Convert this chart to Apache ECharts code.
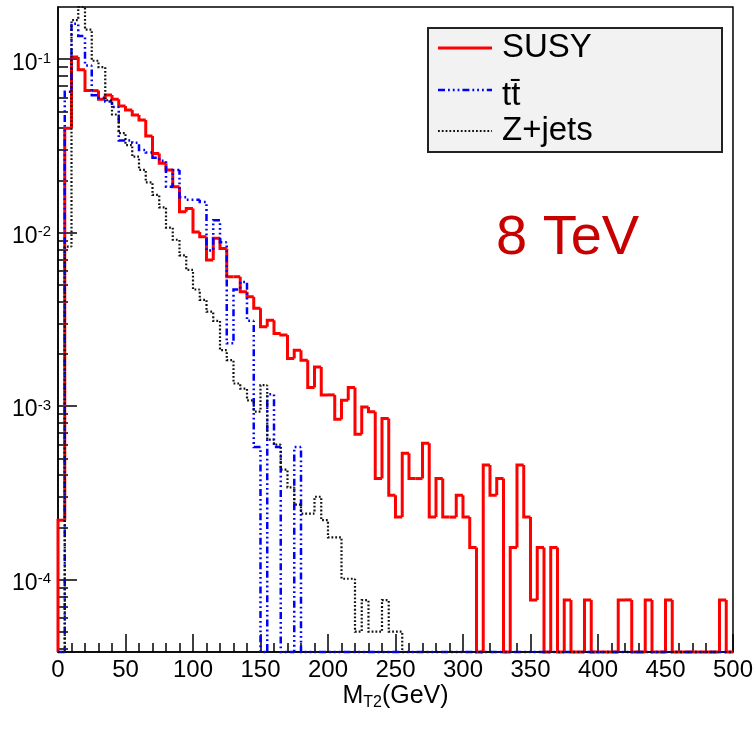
<!DOCTYPE html>
<html>
<head>
<meta charset="utf-8">
<script src="https://cdn.jsdelivr.net/npm/echarts@6/dist/echarts.min.js"></script>
<style>
  html, body { margin: 0; padding: 0; background: #fff; }
  #chart { width: 756px; height: 736px; }
</style>
</head>
<body>
<div id="chart"></div>
<script>
// M_T2 distributions, 5 GeV bins from 0 to 500 GeV, normalised to unit area.
const BIN_WIDTH = 5;
const binLow = Array.from({ length: 100 }, (_, i) => i * BIN_WIDTH);

const susy = [
  2.2e-4, 0.040, 0.103, 0.0868, 0.0659, 0.0659, 0.0587, 0.0622, 0.0587, 0.0538,
  0.0509, 0.0477, 0.0446, 0.0361, 0.0286, 0.0251, 0.0230, 0.0184, 0.0132, 0.0138,
  0.0101, 0.00946, 0.00695, 0.00927, 0.00811, 0.00557, 0.00557, 0.00456, 0.00427, 0.00366,
  0.00287, 0.00313, 0.00262, 0.00257, 0.00188, 0.00210, 0.00184, 0.00128, 0.00168, 0.00116,
  0.00116, 0.000839, 0.00108, 0.00128, 0.000687, 0.000988, 0.000926, 0.000382, 0.000849, 0.000306,
  0.000229, 0.000534, 0.000382, 0.000382, 0.00061, 0.000229, 0.000382, 0.000229, 0.000229, 0.000306,
  0.000229, 0.000153, 0, 0.000458, 0.000306, 0.000382, 0, 0.000153, 0.000458, 0.000229,
  0.0000763, 0.000153, 0, 0.000153, 0, 0.0000763, 0, 0, 0.0000763, 0,
  0, 0, 0, 0.0000763, 0.0000763, 0, 0, 0.0000763, 0, 0,
  0.0000763, 0, 0, 0, 0, 0, 0, 0, 0.0000763, 0
];

const ttbar = [
  0, 0.065, 0.16, 0.136, 0.092, 0.062, 0.060, 0.057, 0.053, 0.034,
  0.034, 0.033, 0.030, 0.029, 0.027, 0.026, 0.0184, 0.023, 0.016, 0.0155,
  0.0155, 0.0150, 0.0079, 0.0118, 0.0088, 0.0023, 0.0047, 0.0052, 0.0031, 0.00058,
  0, 0.00117, 0.00058, 0, 0, 0.00058, 0, 0, 0, 0,
  0, 0, 0, 0, 0, 0, 0, 0, 0, 0,
  0, 0, 0, 0, 0, 0, 0, 0, 0, 0,
  0, 0, 0, 0, 0, 0, 0, 0, 0, 0,
  0, 0, 0, 0, 0, 0, 0, 0, 0, 0,
  0, 0, 0, 0, 0, 0, 0, 0, 0, 0,
  0, 0, 0, 0, 0, 0, 0, 0, 0, 0
];

const zjets = [
  0, 0.0083, 0.168, 0.25, 0.148, 0.098, 0.090, 0.058, 0.048, 0.0375,
  0.032, 0.0274, 0.0230, 0.0195, 0.0165, 0.0140, 0.0107, 0.0091, 0.0074, 0.0061,
  0.0047, 0.0041, 0.0035, 0.0031, 0.0021, 0.00184, 0.00135, 0.00126, 0.00108, 0.00093,
  0.00132, 0.00064, 0.00060, 0.00043, 0.00034, 0.00027, 0.00024, 0.00024, 0.00030, 0.00022,
  0.000175, 0.000175, 0.000101, 0.000101, 0.00005, 0.000076, 0.00005, 0.00005, 0.000076, 0.00005,
  0.00005, 0, 0, 0, 0, 0, 0, 0, 0, 0,
  0, 0, 0, 0, 0, 0, 0, 0, 0, 0,
  0, 0, 0, 0, 0, 0, 0, 0, 0, 0,
  0, 0, 0, 0, 0, 0, 0, 0, 0, 0,
  0, 0, 0, 0, 0, 0, 0, 0, 0, 0
];

const seriesNames = ['SUSY', 't\u0074\u0304', 'Z+jets'];
const xTickLabels = [0, 50, 100, 150, 200, 250, 300, 350, 400, 450, 500];
const yTickLabels = [1e-4, 1e-3, 1e-2, 1e-1];

// Vertical range of the frame
const Y_MIN = 3.82e-5;
const Y_MAX = 0.2;

// Minor log ticks at 2..9 x 10^n inside the frame
const yMinorTicks = [];
for (let e = -5; e <= -1; e++) {
  for (let k = 2; k <= 9; k++) {
    const v = k * Math.pow(10, e);
    if (v > Y_MIN && v < Y_MAX) yMinorTicks.push(v);
  }
}

const FONT = '"Liberation Sans", Arial, Helvetica, sans-serif';

const styles = [
  { stroke: '#ff0000', lineWidth: 3, lineDash: null },
  { stroke: '#0000ff', lineWidth: 2.5, lineDash: [7, 3, 1.8, 3, 1.8, 3, 1.8, 3] },
  { stroke: '#111111', lineWidth: 2.2, lineDash: [1.8, 2] }
];

// Step outline of one histogram, drawn bin by bin; out-of-range contents sit on the frame.
function makeRenderItem(values, style) {
  return function (params, api) {
    const i = params.dataIndex;
    const clampV = v => Math.min(Math.max(v, Y_MIN), Y_MAX);
    const pt = (x, v) => api.coord([x, clampV(v)]);
    // keep the dash pattern continuous across bins
    let offset = 0;
    for (let k = 0; k < i; k++) {
      const p0 = pt(binLow[k], k > 0 ? values[k - 1] : 0);
      const p1 = pt(binLow[k], values[k]);
      const p2 = pt(binLow[k] + BIN_WIDTH, values[k]);
      offset += Math.abs(p1[1] - p0[1]) + Math.abs(p2[0] - p1[0]);
    }
    const prev = i > 0 ? values[i - 1] : 0;
    const x0 = binLow[i], x1 = binLow[i] + BIN_WIDTH;
    const points = [pt(x0, prev), pt(x0, values[i]), pt(x1, values[i])];
    if (i === values.length - 1) points.push(pt(x1, 0));
    return {
      type: 'polyline',
      shape: { points },
      style: {
        stroke: style.stroke,
        lineWidth: style.lineWidth,
        lineDash: style.lineDash,
        lineDashOffset: offset,
        fill: null,
        lineJoin: 'miter'
      }
    };
  };
}

const allSeries = [susy, ttbar, zjets].map((values, s) => ({
  name: seriesNames[s],
  type: 'custom',
  coordinateSystem: 'cartesian2d',
  clip: false,
  z: 2 + s,
  encode: { x: 0, y: 1 },
  data: values.map((v, i) => [binLow[i], v]),
  renderItem: makeRenderItem(values, styles[s]),
  silent: true
}));

const chart = echarts.init(document.getElementById('chart'), null, { renderer: 'canvas' });

chart.setOption({
  animation: false,
  backgroundColor: '#ffffff',
  grid: {
    left: 58, right: 22, top: 7, bottom: 84,
    show: true, borderColor: '#000', borderWidth: 1.5, backgroundColor: 'transparent'
  },
  xAxis: {
    type: 'value',
    min: xTickLabels[0],
    max: xTickLabels[xTickLabels.length - 1],
    interval: 50,
    name: '{m|M}{sub|T2}{m|(GeV)}',
    nameLocation: 'middle',
    nameGap: 29,
    nameMoveOverlap: false,
    nameTextStyle: {
      rich: {
        m: { fontSize: 25, fontFamily: FONT, color: '#000', lineHeight: 30 },
        sub: { fontSize: 16, fontFamily: FONT, color: '#000', lineHeight: 12, verticalAlign: 'bottom' }
      }
    },
    axisLine: { show: true, onZero: false, lineStyle: { color: '#000', width: 1.5 } },
    axisTick: { show: true, inside: true, length: 18, lineStyle: { color: '#000', width: 1.5 } },
    minorTick: { show: true, splitNumber: 5, length: 9, lineStyle: { color: '#000', width: 1.5 } },
    axisLabel: { fontSize: 24, fontFamily: FONT, color: '#000', margin: 6 },
    splitLine: { show: false }
  },
  yAxis: [
    {
      type: 'log',
      logBase: 10,
      min: Y_MIN,
      max: Y_MAX,
      axisLine: { show: true, lineStyle: { color: '#000', width: 1.5 } },
      axisTick: { show: true, inside: true, length: 19, customValues: yTickLabels,
                  lineStyle: { color: '#000', width: 1.5 } },
      axisLabel: {
        customValues: yTickLabels,
        margin: 7,
        padding: [8, 0, 0, 0],
        formatter: v => '{b|10}{s|' + Math.round(Math.log10(v)) + '}',
        rich: {
          b: { fontSize: 23, fontFamily: FONT, color: '#000', lineHeight: 24 },
          s: { fontSize: 15, fontFamily: FONT, color: '#000', lineHeight: 14, verticalAlign: 'top' }
        }
      },
      splitLine: { show: false }
    },
    {
      type: 'log',
      logBase: 10,
      min: Y_MIN,
      max: Y_MAX,
      position: 'left',
      axisLine: { show: false },
      axisTick: { show: true, inside: true, length: 10, customValues: yMinorTicks,
                  lineStyle: { color: '#000', width: 1.5 } },
      axisLabel: { show: false },
      splitLine: { show: false }
    }
  ],
  series: allSeries,
  graphic: [
    { type: 'rect', z: 10, shape: { x: 428, y: 28, width: 294, height: 124 },
      style: { fill: '#f2f2f2', stroke: '#222', lineWidth: 2 } },
    { type: 'line', z: 11, shape: { x1: 438, y1: 48, x2: 492, y2: 48 },
      style: { stroke: styles[0].stroke, lineWidth: 3 } },
    { type: 'line', z: 11, shape: { x1: 438, y1: 90, x2: 492, y2: 90 },
      style: { stroke: styles[1].stroke, lineWidth: 2.5, lineDash: styles[1].lineDash } },
    { type: 'line', z: 11, shape: { x1: 438, y1: 131, x2: 492, y2: 131 },
      style: { stroke: styles[2].stroke, lineWidth: 2, lineDash: styles[2].lineDash } },
    { type: 'text', z: 11, x: 502, y: 48,
      style: { text: seriesNames[0], fontSize: 33, fontFamily: FONT, fill: '#000', verticalAlign: 'middle' } },
    { type: 'text', z: 11, x: 502, y: 96,
      style: { text: seriesNames[1], fontSize: 33, fontFamily: FONT, fill: '#000', verticalAlign: 'middle' } },
    { type: 'text', z: 11, x: 502, y: 131,
      style: { text: seriesNames[2], fontSize: 33, fontFamily: FONT, fill: '#000', verticalAlign: 'middle' } },
    { type: 'text', z: 11, x: 496, y: 239,
      style: { text: '8 TeV', fontSize: 56, fontFamily: FONT, fill: '#c80000', verticalAlign: 'middle' } }
  ]
});
</script>
</body>
</html>
